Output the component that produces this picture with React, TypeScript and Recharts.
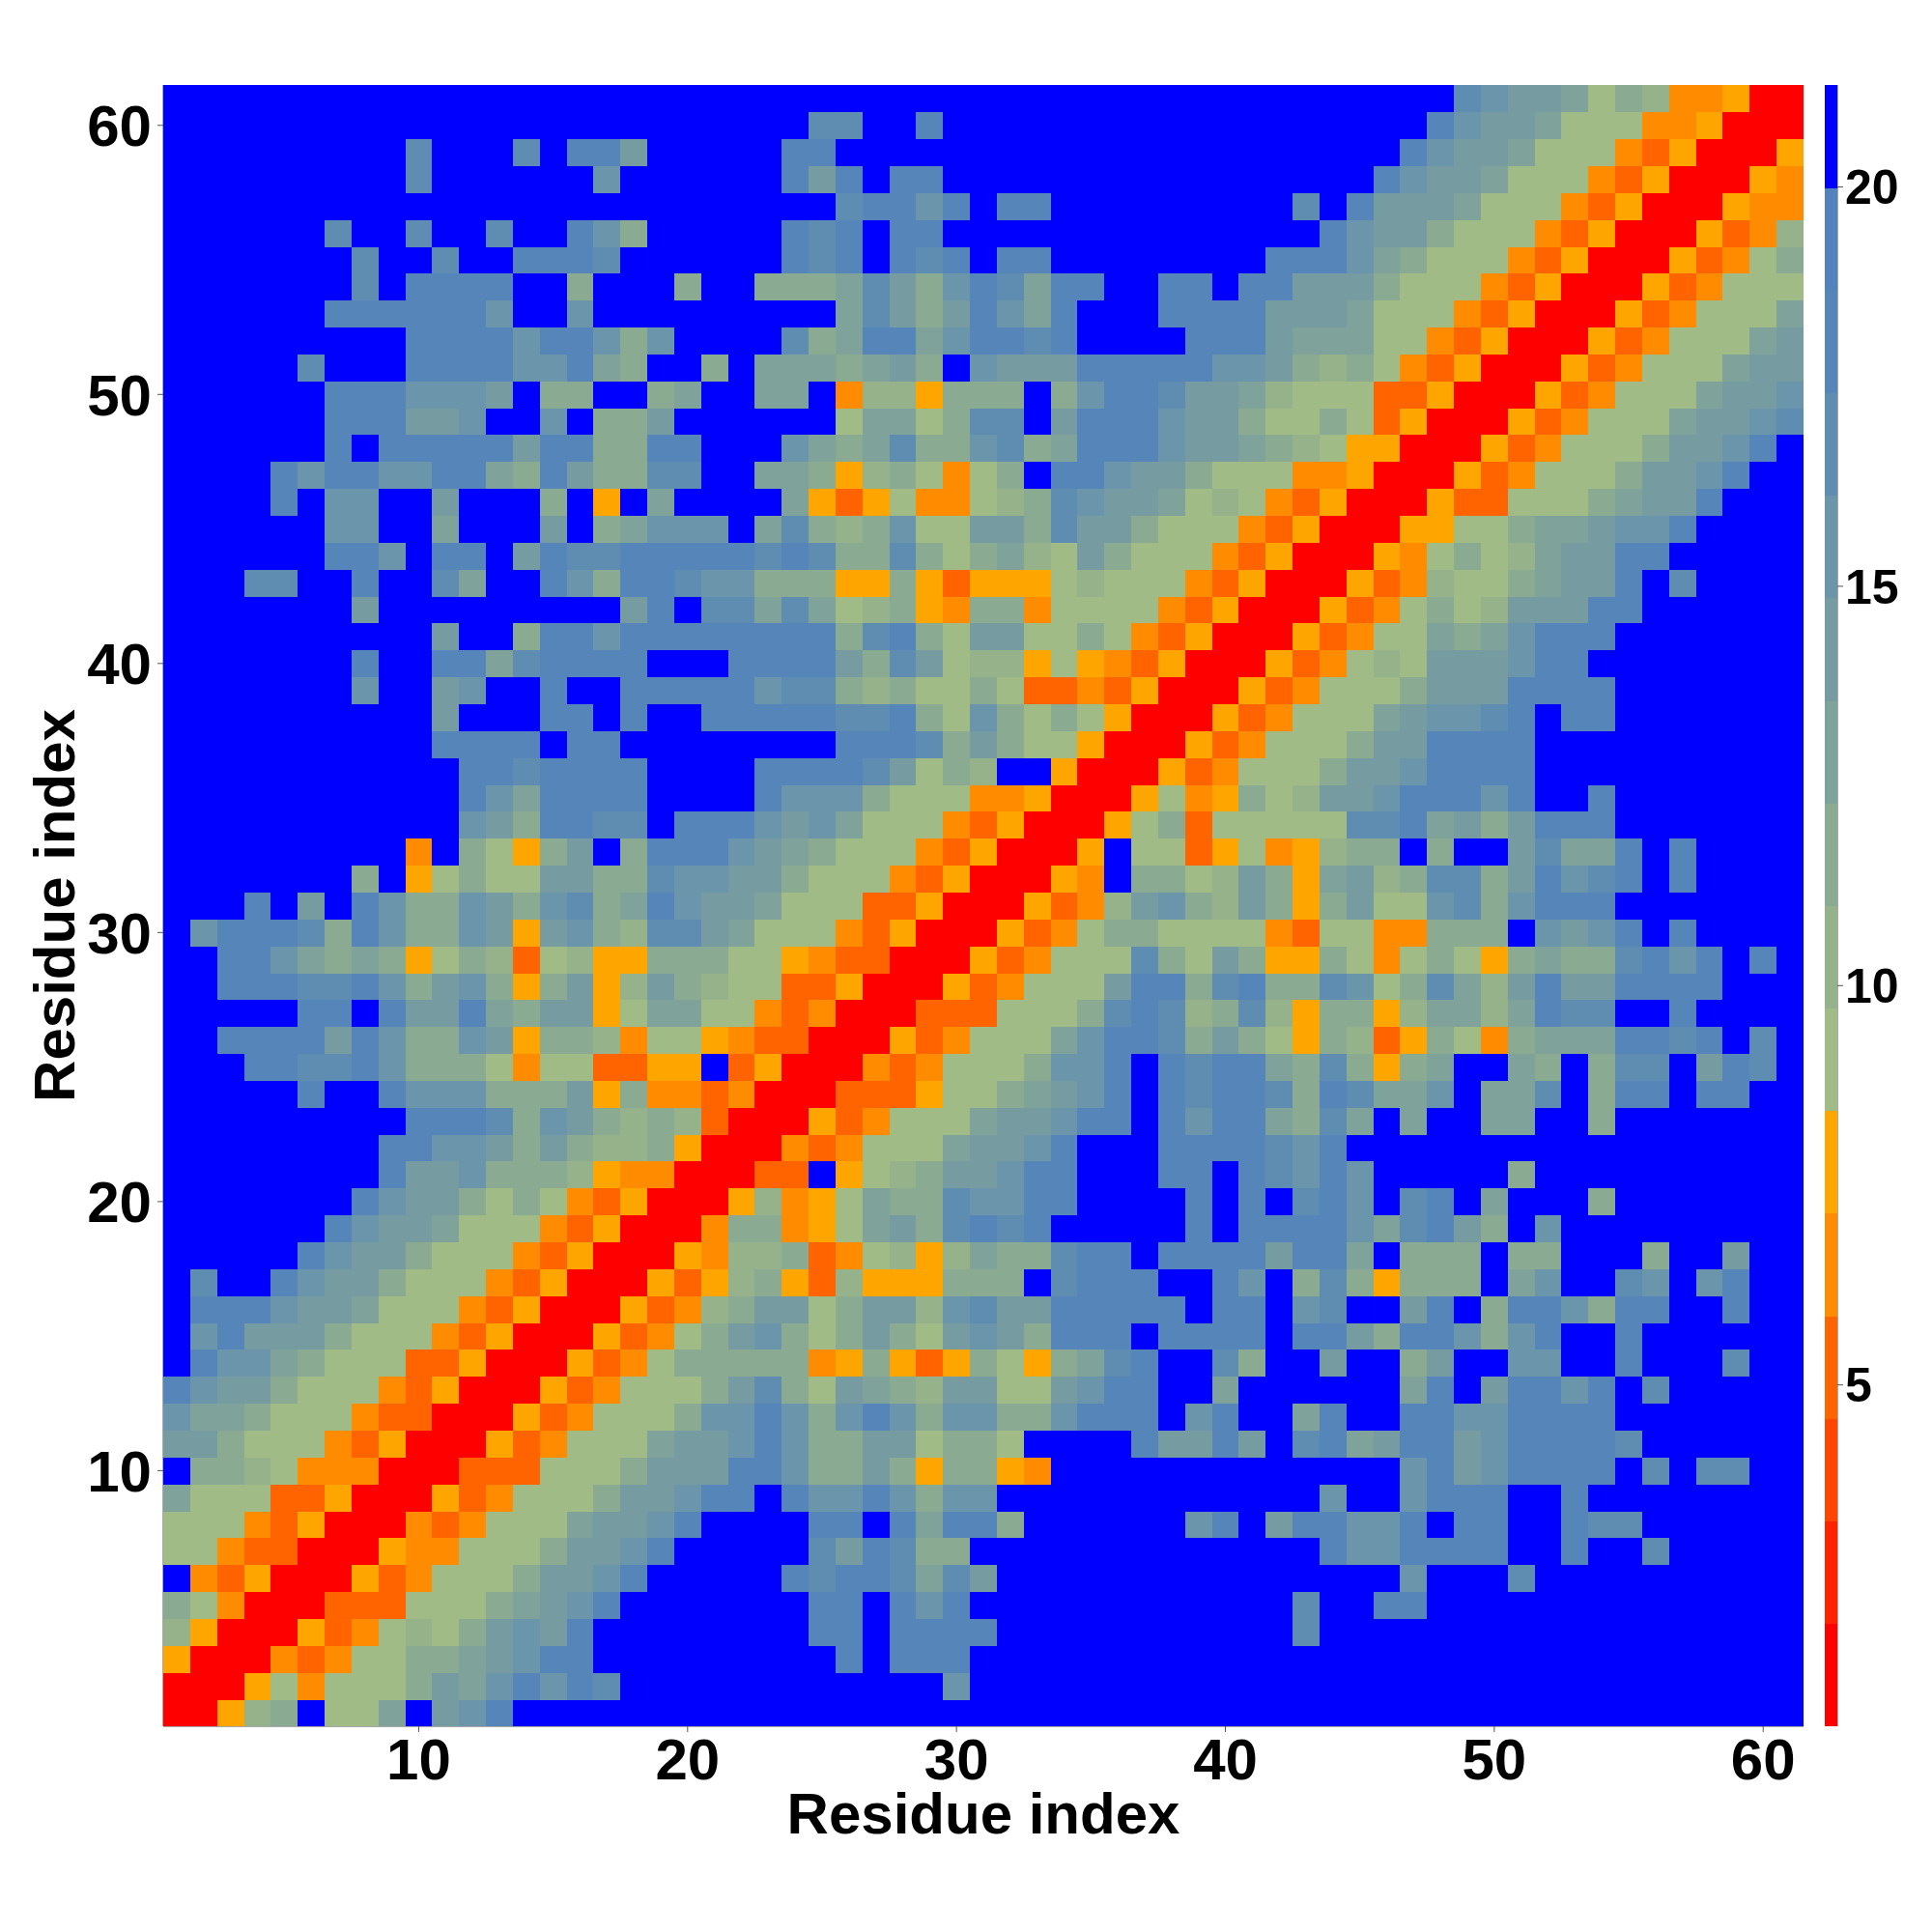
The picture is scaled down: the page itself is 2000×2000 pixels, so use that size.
import { ScatterChart, Scatter, XAxis, YAxis } from "recharts";

// one string per residue row (1..61), hex digit = colour band of the cell at column 1..row
// the map is symmetric, so only the part up to the diagonal is listed
const bandRows = [
  "0",
  "00",
  "500",
  "7500",
  "86400",
  "f43500",
  "6643300",
  "66643500",
  "966633500",
  "f887644400",
  "aa86664350 0",
  "b998666433 00",
  "dbaa866643 500",
  "fdbb986663 3500",
  "fbdaaa8666 43500",
  "fdddbaa966 643500",
  "fcffdbaa86 6643500",
  "fffffdbaa8 66643500",
  "ffffffdbaa 966643500",
  "fffffffdba a868643500",
  "ffffffffda ab88875440 0",
  "ffffffffdd bba8a87785 00",
  "fffffffffd ddc8ba8787 300",
  "fffffdffdb bb888a5844 3400",
  "fffddccdb8 8864663355 f3500",
  "ffddddadb8 8ba5887466 543300",
  "fffffddfda ad98aa5699 6643400",
  "ffdddccdb8 ab858a57a8 76633500",
  "ffddb98985 6873675588 866543300",
  "fbdddc8db8 8ba5ab87cc a966643500",
  "fffdfafdb8 8ba8bc89db aa966633500",
  "fffffff8f5 6866aa88cb baa866643500",
  "fffffffff4 f8658af8dd dba9866643500",
  "ffffffffff fba8ddccfd ddbab966643500",
  "ffffffffff fdb9ddddff ffdbbb866644500",
  "ffffffffff fddcddddff ffddddca687ff500",
  "ffffffffff ddddfddfff fffffdddc8 a866500",
  "ffffffffff afffddfdff dddddccd86b8686500",
  "fffffffbff abffdffddd ddbcc87866863343500",
  "fffffffdff dd9cddddff fdddda8ca67756543500",
  "ffffffffff aff8ddbddd ddddd8cd86aa668643500",
  "fffffffaff fffffffadf cc9c967854 8846666435 00",
  "fffccffdff c9ffdb8ddc bb88855853 5556766643 500",
  "ffffffddbf ddfadccddd ddcdc88c86 8976a86664 3500",
  "ffffffbbff 9fffaf89bb bf9c878b66 aa8caa8666 43500",
  "ffffdfbbff afff8f5f9f fff9535644 678cbaa967 643500",
  "ffffdbddbb dd98da88cc ff99857864 68fddbaa86 6644500",
  "ffffffdfdd dddadd88dd fffb989c88 bc89dddbaa 98765500",
  "ffffffddda abffbf88af fffff69968 ccfadddbaa 866863500",
  "ffffffdddb bbaf88ff89 ff99f47758 88f8bddcaa 9766633500",
  "fffffcfffd dddbbd98ff 8f99989a8f baaadddddb ba878643500",
  "fffffffffd dddbddb8bf fffc89dd9b ddcdffffdd da9996643500",
  "ffffffdddd ddbffbffff fffff9ca8a db9dfffddd daaa966643500",
  "fffffffcfd dddff8fff8 ff8889ca8b dc9ddffddf ddaaa866643500",
  "fffffffcff cffdddcfff fffdcdfdcd fddfffffff fdddb9866643500",
  "ffffffcffc ffcffdb8ff fffdcdfddf ffffffffff fffdbaa866643500",
  "ffffffffff ffffffffff fffffcddbd fddfffffff ffcfdaaa966643500",
  "fffffffffc ffffffbfff fffdadfddf ffffffffff fffffdbaa966643500",
  "fffffffffc fffcfddaff fffddfffff ffffffffff ffffffdbaa966643500",
  "ffffffffff ffffffffff ffffccffdf ffffffffff fffffffdbaa966644500",
  "ffffffffff ffffffffff ffffffffff ffffffffff ffffffffcb aa96874450 0",
];

const bandColors = [
  "#ff0000", "#ff2200", "#ff4600", "#ff6400", "#ff8c00", "#ffa500",
  "#a0bb85", "#96b28b", "#8aaa92", "#7fa29a", "#769ca1", "#6a95aa",
  "#5f8db2", "#5685ba", "#5383bc", "#0000ff",
];

const axisTicks = [10, 20, 30, 40, 50, 60];
const barTicks = [5, 10, 15, 20];
const barMin = 0.726;
const barMax = 21.277;

const rows = bandRows.map((r) => r.replace(/ /g, ""));
const size = rows.length;

const cells: { x: number; y: number; band: number }[] = [];
rows.forEach((r, i) => {
  r.split("").forEach((ch, j) => {
    const band = parseInt(ch, 16);
    cells.push({ x: j + 1, y: i + 1, band });
    if (i !== j) cells.push({ x: i + 1, y: j + 1, band });
  });
});

const barStep = (barMax - barMin) / bandColors.length;
const barCells = bandColors.map((_, i) => ({ x: 1, y: barMin + barStep * (i + 0.5), band: i }));

const plotW = 1698;
const plotH = 1699;
const cellW = plotW / size;
const cellH = plotH / size;
const barW = 13;
const barH = plotH / bandColors.length;

const font = "'Liberation Sans', Arial, sans-serif";
const tickStyle = { fontFamily: font, fontWeight: 700, fontSize: 60, fill: "#000" };
const lineColor = "#555";

const HeatCell = (props: any) => {
  const { cx, cy, payload } = props;
  return (
    <rect
      x={cx - cellW / 2}
      y={cy - cellH / 2}
      width={cellW + 0.4}
      height={cellH + 0.4}
      fill={bandColors[payload.band]}
      shapeRendering="crispEdges"
    />
  );
};

const BarCell = (props: any) => {
  const { cx, cy, payload } = props;
  return (
    <rect
      x={cx - barW / 2}
      y={cy - barH / 2}
      width={barW}
      height={barH + 0.4}
      fill={bandColors[payload.band]}
      shapeRendering="crispEdges"
    />
  );
};

export default function App() {
  return (
    <div style={{ position: "absolute", left: 0, top: 0, width: 2000, height: 2000, background: "#fff" }}>
      <div style={{ position: "absolute", left: 0, top: 0 }}>
        <ScatterChart width={1900} height={2000} margin={{ top: 88, right: 33, bottom: 0, left: 0 }}>
          <XAxis
            xAxisId="main"
            type="number"
            dataKey="x"
            domain={[0.5, 61.5]}
            ticks={axisTicks}
            interval={0}
            height={213}
            tickSize={6}
            tickMargin={6}
            tick={tickStyle}
            stroke={lineColor}
            label={{
              value: "Residue index",
              position: "insideTop",
              offset: 68,
              dx: 0,
              style: { ...tickStyle, textAnchor: "middle" },
            }}
          />
          <XAxis xAxisId="top" orientation="top" type="number" domain={[0.5, 61.5]} ticks={axisTicks} interval={0} height={0} tickSize={6} tick={false} stroke={lineColor} />
          <YAxis
            yAxisId="main"
            type="number"
            dataKey="y"
            domain={[0.5, 61.5]}
            ticks={axisTicks}
            interval={0}
            width={169}
            tickSize={6}
            tickMargin={6}
            tick={tickStyle}
            stroke={lineColor}
            label={{
              value: "Residue index",
              angle: -90,
              position: "insideLeft",
              offset: 0,
              dx: 56,
              style: { ...tickStyle, textAnchor: "middle" },
            }}
          />
          <YAxis yAxisId="right" orientation="right" type="number" domain={[0.5, 61.5]} ticks={axisTicks} interval={0} width={0} tickSize={6} tick={false} stroke={lineColor} />
          <Scatter xAxisId="main" yAxisId="main" data={cells} shape={HeatCell} isAnimationActive={false} />
        </ScatterChart>
      </div>
      <div style={{ position: "absolute", left: 1889, top: 0 }}>
        <ScatterChart width={111} height={2000} margin={{ top: 88, right: 0, bottom: 213, left: 0 }}>
          <XAxis type="number" dataKey="x" domain={[0.5, 1.5]} hide />
          <YAxis
            yAxisId="main"
            orientation="right"
            type="number"
            dataKey="y"
            domain={[barMin, barMax]}
            ticks={barTicks}
            interval={0}
            width={98}
            tickSize={6}
            tickMargin={2}
            tick={{ ...tickStyle, fontSize: 50 }}
            stroke={lineColor}
          />
          <YAxis yAxisId="edge" type="number" domain={[barMin, barMax]} width={0} tick={false} tickLine={false} stroke={lineColor} />
          <Scatter yAxisId="main" data={barCells} shape={BarCell} isAnimationActive={false} />
        </ScatterChart>
      </div>
    </div>
  );
}
